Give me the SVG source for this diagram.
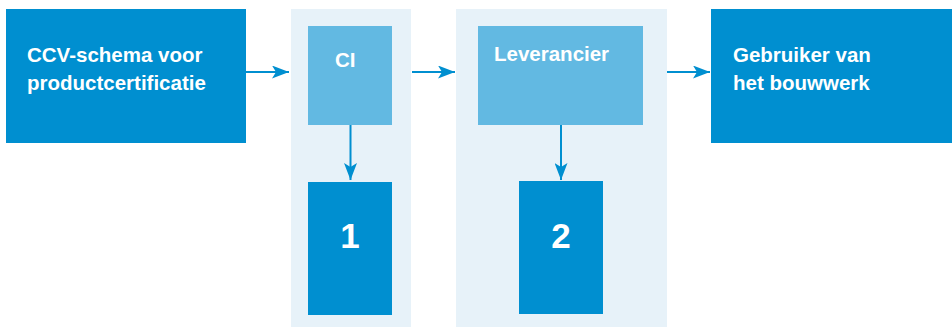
<svg xmlns="http://www.w3.org/2000/svg" width="952" height="327" viewBox="0 0 952 327">
<defs>
<style>
.dark{fill:#008FD0}
.light{fill:#62B9E2}
.panel{fill:#E7F2F9}
.t{font-family:"Liberation Sans",Arial,sans-serif;font-weight:bold;fill:#fff}
.lbl{font-size:20.5px}
.num{font-size:35px;text-anchor:middle}
.conn{stroke:#008FD0;stroke-width:2;fill:none}
</style>
<marker id="ah" markerUnits="userSpaceOnUse" viewBox="0 0 17 13" markerWidth="17" markerHeight="13" refX="17" refY="6.5" orient="auto">
<path d="M0,0 L17,6.5 L0,13 L4,6.5 Z" fill="#008FD0"/>
</marker>
</defs>
<rect class="panel" x="291" y="9" width="120" height="318"/>
<rect class="panel" x="456" y="9" width="211" height="318"/>
<g id="ccv">
<rect class="dark" x="6" y="9" width="240" height="134"/>
<text class="t lbl" x="27" y="62">CCV-schema voor</text>
<text class="t lbl" x="27" y="90">productcertificatie</text>
</g>
<g id="ci">
<rect class="light" x="308" y="26" width="84" height="99"/>
<text class="t lbl" x="335" y="67">CI</text>
</g>
<g id="n1">
<rect class="dark" x="308" y="182" width="84" height="133"/>
<text class="t num" x="350" y="248">1</text>
</g>
<g id="leverancier">
<rect class="light" x="478" y="26" width="165" height="99"/>
<text class="t lbl" x="494" y="61">Leverancier</text>
</g>
<g id="n2">
<rect class="dark" x="519" y="181" width="84" height="133"/>
<text class="t num" x="561" y="248">2</text>
</g>
<g id="gebruiker">
<rect class="dark" x="711" y="9" width="241" height="134"/>
<text class="t lbl" x="733" y="62">Gebruiker van</text>
<text class="t lbl" x="733" y="90">het bouwwerk</text>
</g>
<g id="connectors">
<line class="conn" x1="246" y1="72" x2="289" y2="72" marker-end="url(#ah)"/>
<line class="conn" x1="412" y1="72" x2="455" y2="72" marker-end="url(#ah)"/>
<line class="conn" x1="667" y1="72" x2="710" y2="72" marker-end="url(#ah)"/>
<line class="conn" x1="350.5" y1="125" x2="350.5" y2="180" marker-end="url(#ah)"/>
<line class="conn" x1="561" y1="125" x2="561" y2="180" marker-end="url(#ah)"/>
</g>
</svg>
